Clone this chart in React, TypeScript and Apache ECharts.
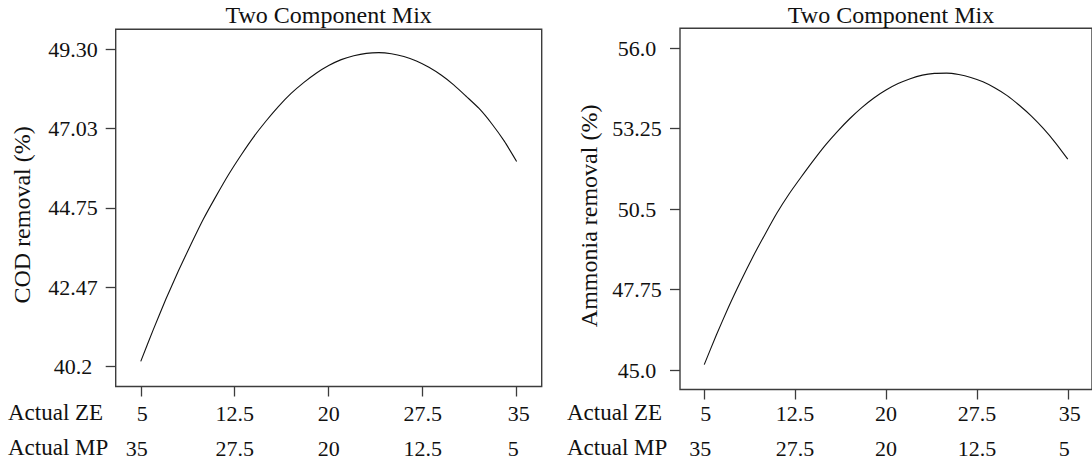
import React, { useEffect, useRef } from "react";
import * as echarts from "echarts";

// ---- data ----
const zeSteps = [5, 6, 7, 8, 9, 10, 11, 12, 13, 14, 15, 16, 17, 18, 19, 20, 21, 22, 23, 24, 25, 26, 27, 28, 29, 30, 31, 32, 33, 34, 35];
const codRemoval = [
  40.35, 41.26, 42.13, 42.94, 43.7, 44.43, 45.08, 45.7, 46.26, 46.78, 47.24, 47.66, 48.03, 48.34, 48.61, 48.83,
  49.0, 49.11, 49.18, 49.2, 49.17, 49.09, 48.96, 48.78, 48.55, 48.27, 47.94, 47.6, 47.17, 46.67, 46.08,
];
const ammoniaRemoval = [
  45.19, 46.2, 47.15, 48.03, 48.86, 49.63, 50.37, 51.02, 51.6, 52.16, 52.69, 53.16, 53.59, 53.97, 54.3, 54.57,
  54.79, 54.96, 55.08, 55.14, 55.15, 55.1, 55.0, 54.85, 54.64, 54.38, 54.05, 53.68, 53.25, 52.76, 52.21,
];

const zeTicks = [5, 12.5, 20, 27.5, 35];
const zeTickLabels = ["5", "12.5", "20", "27.5", "35"];
const mpTickLabels = ["35", "27.5", "20", "12.5", "5"];

const codTicks = [40.2, 42.47, 44.75, 47.03, 49.3];
const codTickLabels = ["40.2", "42.47", "44.75", "47.03", "49.30"];
const ammTicks = [45.0, 47.75, 50.5, 53.25, 56.0];
const ammTickLabels = ["45.0", "47.75", "50.5", "53.25", "56.0"];

const titleText = "Two Component Mix";
const codName = "COD removal (%)";
const ammName = "Ammonia removal (%)";

const FONT = "Liberation Serif";
const TXT = "#111111";
const FRAME = "#3c3c3c";

function xAxisFor(gridIndex: number, margin: number) {
  const base = { fontSize: 22, fontFamily: FONT, color: TXT, lineHeight: 35 };
  return {
    type: "value",
    gridIndex,
    min: 3,
    max: 37,
    axisLine: { show: false },
    splitLine: { show: false },
    axisTick: {
      show: true,
      inside: false,
      length: 10,
      customValues: zeTicks,
      lineStyle: { color: FRAME, width: 1.3 },
    },
    axisLabel: {
      show: true,
      margin,
      customValues: zeTicks,
      fontFamily: FONT,
      fontSize: 22,
      color: TXT,
      formatter: (v: number) => {
        const i = zeTicks.indexOf(v);
        if (i < 0) return "";
        const s = i === 0 ? "r" : i === zeTicks.length - 1 ? "l" : "c";
        return `{${s}|${zeTickLabels[i]}}\n{${s}|${mpTickLabels[i]}}`;
      },
      rich: {
        c: { ...base, align: "center" },
        r: { ...base, align: "right", padding: [0, 8, 0, 0] },
        l: { ...base, align: "left", padding: [0, 0, 0, 4] },
      },
    },
  };
}

function yAxisFor(
  gridIndex: number,
  min: number,
  max: number,
  ticks: number[],
  labels: string[],
  name: string,
  nameGap: number,
  labelMargin: number
) {
  return {
    type: "value",
    gridIndex,
    min,
    max,
    name,
    nameLocation: "middle",
    nameGap,
    nameRotate: 90,
    nameTextStyle: { fontSize: 24, fontFamily: FONT, color: TXT, padding: [0, 14, 0, 0] },
    axisLine: { show: false },
    splitLine: { show: false },
    axisTick: {
      show: true,
      inside: false,
      length: 10,
      customValues: ticks,
      lineStyle: { color: FRAME, width: 1.3 },
    },
    axisLabel: {
      show: true,
      margin: labelMargin,
      align: "center",
      customValues: ticks,
      fontSize: 22,
      fontFamily: FONT,
      color: TXT,
      formatter: (v: number) => {
        const i = ticks.findIndex((t) => Math.abs(t - v) < 1e-6);
        return i < 0 ? "" : labels[i];
      },
    },
  };
}

export default function App() {
  const ref = useRef<HTMLDivElement>(null);
  useEffect(() => {
    if (!ref.current) return;
    const chart = echarts.init(ref.current, undefined, { renderer: "svg" });
    const grids = [
      { left: 115.7, top: 29.3, width: 426, height: 357.4 },
      { left: 680, top: 28.3, width: 416.2, height: 361.7 },
    ];
    const textStyleTitle = { fontSize: 24, fontWeight: "normal", fontFamily: FONT, color: TXT };
    const label = (text: string, left: number, top: number) => ({
      type: "text",
      left,
      top,
      style: { text, fontSize: 23, fontFamily: FONT, fill: TXT },
    });
    chart.setOption({
      animation: false,
      backgroundColor: "#ffffff",
      textStyle: { fontFamily: FONT },
      title: [
        { text: titleText, left: 328.7, top: 3, textAlign: "center", padding: 0, textStyle: textStyleTitle },
        { text: titleText, left: 891, top: 3, textAlign: "center", padding: 0, textStyle: textStyleTitle },
      ],
      grid: grids.map((g) => ({ ...g, show: true, borderColor: FRAME, borderWidth: 1.4, backgroundColor: "transparent" })),
      xAxis: [xAxisFor(0, 9), xAxisFor(1, 6)],
      yAxis: [
        yAxisFor(0, 39.631, 49.869, codTicks, codTickLabels, codName, 82, 42.7),
        yAxisFor(1, 44.34, 56.68, ammTicks, ammTickLabels, ammName, 79, 43),
      ],
      series: [
        {
          type: "line",
          xAxisIndex: 0,
          yAxisIndex: 0,
          data: zeSteps.map((x, i) => [x, codRemoval[i]]),
          smooth: 0.2,
          showSymbol: false,
          lineStyle: { color: "#111", width: 1.1 },
        },
        {
          type: "line",
          xAxisIndex: 1,
          yAxisIndex: 1,
          data: zeSteps.map((x, i) => [x, ammoniaRemoval[i]]),
          smooth: 0.2,
          showSymbol: false,
          lineStyle: { color: "#111", width: 1.1 },
        },
      ],
      graphic: [
        label("Actual ZE", 8, 401),
        label("Actual MP", 8, 436),
        label("Actual ZE", 567, 401),
        label("Actual MP", 567, 436),
      ],
    });
    return () => chart.dispose();
  }, []);
  return (
    <div
      ref={ref}
      style={{ position: "fixed", left: 0, top: 0, width: 1092, height: 459, background: "#fff" }}
    />
  );
}
